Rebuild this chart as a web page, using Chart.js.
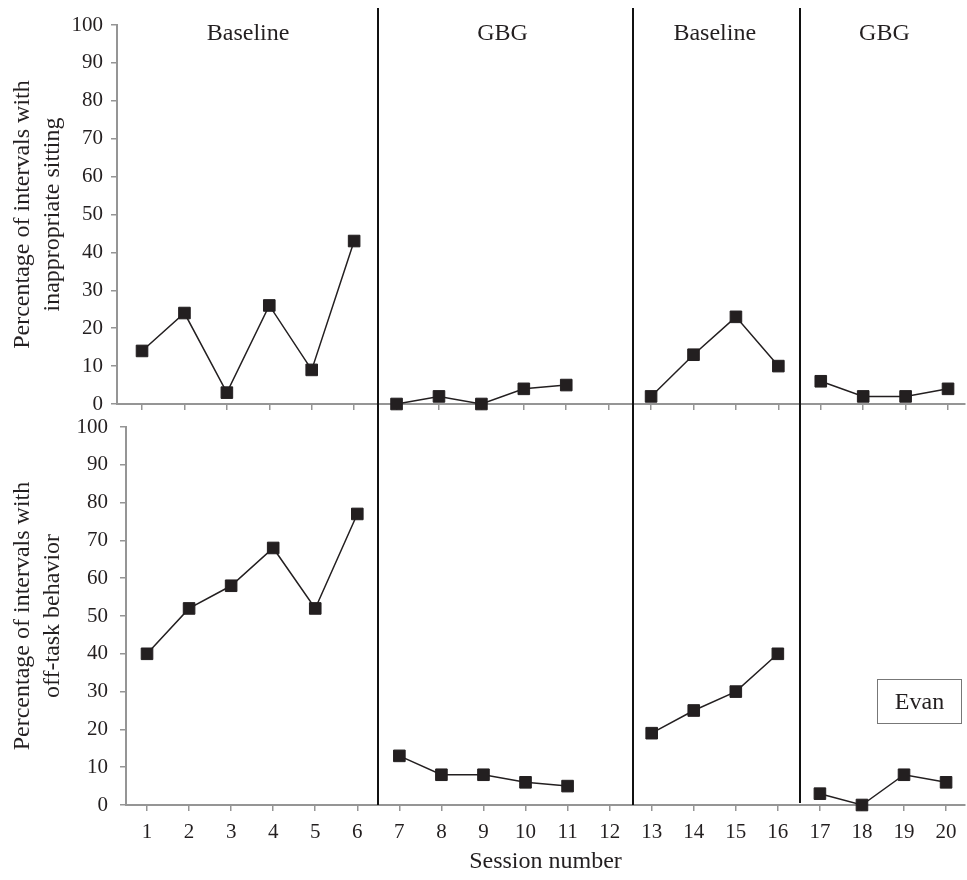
<!DOCTYPE html>
<html>
<head>
<meta charset="utf-8">
<script src="https://cdn.jsdelivr.net/npm/chart.js@4.4.1/dist/chart.umd.min.js"></script>
<style>
  html, body { margin: 0; padding: 0; background: #fff; }
  #wrap { position: relative; width: 967px; height: 880px; overflow: hidden; }
  #topWrap { position: absolute; left: 0; top: 0; width: 967px; height: 415px; }
  #bottomWrap { position: absolute; left: 0; top: 415px; width: 967px; height: 465px; }
</style>
</head>
<body>
<div id="wrap">
  <div id="topWrap"><canvas id="sittingChart"></canvas></div>
  <div id="bottomWrap"><canvas id="offTaskChart"></canvas></div>
</div>
<script>
// Session data (null = no session recorded)
const sessions = [1, 2, 3, 4, 5, 6, 7, 8, 9, 10, 11, 12, 13, 14, 15, 16, 17, 18, 19, 20];
const sittingValues = [14, 24, 3, 26, 9, 43, 0, 2, 0, 4, 5, null, 2, 13, 23, 10, 6, 2, 2, 4];
const offTaskValues = [40, 52, 58, 68, 52, 77, 13, 8, 8, 6, 5, null, 19, 25, 30, 40, 3, 0, 8, 6];

// Phases
const phaseNames = ["Baseline", "GBG", "Baseline", "GBG"];
const phaseStarts = [1, 7, 13, 17];
const phaseEnds = [6, 12, 16, 20];
const phaseChanges = [6.5, 12.55, 16.52];

const yTicks = [0, 10, 20, 30, 40, 50, 60, 70, 80, 90, 100];

const INK = "#231f20";
const AXIS = "#959595";
const FONT = "'Liberation Serif', 'Times New Roman', serif";

let topChart = null;
let bottomChart = null;

/**
 * Split a series into one dataset per phase so lines break between phases
 */
function buildDatasets(values) {
  return phaseStarts.map((start, i) => {
    const pts = [];
    sessions.forEach((s, idx) => {
      if (s >= start && s <= phaseEnds[i] && values[idx] !== null) {
        pts.push({ x: s, y: values[idx] });
      }
    });
    return {
      data: pts,
      borderColor: INK,
      borderWidth: 1.5,
      pointStyle: "rect",
      pointRadius: 8.2,
      pointBorderWidth: 1,
      pointBackgroundColor: INK,
      pointBorderColor: INK,
      tension: 0,
      clip: false,
    };
  });
}

// x pixel of a phase change line (shared by both panels, taken from bottom chart)
function phaseLineX(chart, v) {
  const ref = bottomChart || chart;
  return ref.scales.x.getPixelForValue(v);
}

const phasePlugin = {
  id: "phases",
  afterDatasetsDraw(chart, args, opts) {
    const ctx = chart.ctx;
    const area = chart.chartArea;
    ctx.save();
    ctx.strokeStyle = "#111";
    ctx.lineWidth = 2;
    phaseChanges.forEach((v, i) => {
      const x = Math.round(phaseLineX(chart, v));
      ctx.beginPath();
      ctx.moveTo(x, opts.lineTop);
      ctx.lineTo(x, opts.lineBottom === "canvas" ? chart.height : area.bottom - (i === 2 ? 2 : 0));
      ctx.stroke();
    });
    if (opts.labels) {
      ctx.fillStyle = INK;
      ctx.font = "24px " + FONT;
      ctx.textAlign = "center";
      ctx.textBaseline = "middle";
      phaseNames.forEach((name, i) => {
        const cx = chart.scales.x.getPixelForValue((phaseStarts[i] + phaseEnds[i]) / 2);
        ctx.fillText(name, cx, area.top + 9);
      });
    }
    if (opts.evan) {
      const xs = chart.scales.x;
      const ys = chart.scales.y;
      const x0 = Math.round(xs.getPixelForValue(18.36)) + 0.5;
      const x1 = Math.round(xs.getPixelForValue(20.36)) + 0.5;
      const y0 = Math.round(ys.getPixelForValue(33.3)) + 0.5;
      const y1 = Math.round(ys.getPixelForValue(21.7)) + 0.5;
      ctx.fillStyle = "#fff";
      ctx.fillRect(x0, y0, x1 - x0, y1 - y0);
      ctx.strokeStyle = "#777";
      ctx.lineWidth = 1;
      ctx.strokeRect(x0, y0, x1 - x0, y1 - y0);
      ctx.fillStyle = INK;
      ctx.font = "24px " + FONT;
      ctx.textAlign = "center";
      ctx.textBaseline = "middle";
      ctx.fillText("Evan", (x0 + x1) / 2, (y0 + y1) / 2 + 1);
    }
    ctx.restore();
  },
};

function makeOptions(cfg) {
  return {
    responsive: true,
    maintainAspectRatio: false,
    animation: false,
    layout: {
      autoPadding: false,
      padding: { top: cfg.padTop, right: cfg.padRight, bottom: 0, left: 0 },
    },
    plugins: {
      legend: { display: false },
      tooltip: { enabled: false },
      phases: cfg.phases,
    },
    scales: {
      x: {
        type: "linear",
        min: cfg.xMin,
        max: cfg.xMax,
        afterBuildTicks: (scale) => {
          scale.ticks = sessions.map((v) => ({ value: v }));
        },
        afterFit: (scale) => {
          scale.height = cfg.xHeight;
          scale.paddingLeft = 0;
          scale.paddingRight = 0;
        },
        grid: { drawOnChartArea: false, color: AXIS, tickLength: 6, lineWidth: 1.5 },
        border: { color: AXIS, width: 2 },
        ticks: {
          display: cfg.xLabels,
          color: INK,
          font: { family: FONT, size: 21 },
          padding: 9,
          maxRotation: 0,
          autoSkip: false,
        },
        title: {
          display: cfg.xLabels,
          text: "Session number",
          color: INK,
          font: { family: FONT, size: 24 },
          padding: { top: 4, bottom: 4 },
        },
      },
      y: {
        min: 0,
        max: 100,
        afterBuildTicks: (scale) => {
          scale.ticks = yTicks.map((v) => ({ value: v }));
        },
        afterFit: (scale) => {
          scale.width = cfg.yWidth;
          scale.paddingTop = 0;
          scale.paddingBottom = 0;
        },
        grid: { drawOnChartArea: false, color: AXIS, tickLength: 6, lineWidth: 1.5 },
        border: { color: AXIS, width: 2 },
        ticks: {
          color: INK,
          font: { family: FONT, size: 21 },
          padding: cfg.yTickPad,
        },
        title: {
          display: true,
          text: cfg.yTitle,
          color: INK,
          font: { family: FONT, size: 24, lineHeight: 1.25 },
          padding: { top: 8, bottom: 0 },
        },
      },
    },
  };
}

bottomChart = new Chart(document.getElementById("offTaskChart"), {
  type: "line",
  data: { datasets: buildDatasets(offTaskValues) },
  options: makeOptions({
    padTop: 12,
    padRight: 2,
    xMin: 0.5,
    xMax: 20.45,
    xHeight: 75,
    xLabels: true,
    yWidth: 126,
    yTickPad: 12,
    yTitle: ["Percentage of intervals with", "off-task behavior"],
    phases: { lineTop: 0, lineBottom: "area", labels: false, evan: true },
  }),
  plugins: [phasePlugin],
});

topChart = new Chart(document.getElementById("sittingChart"), {
  type: "line",
  data: { datasets: buildDatasets(sittingValues) },
  options: makeOptions({
    padTop: 25,
    padRight: 2,
    xMin: 0.41,
    xMax: 20.4,
    xHeight: 11,
    xLabels: false,
    yWidth: 117,
    yTickPad: 8,
    yTitle: ["Percentage of intervals with", "inappropriate sitting"],
    phases: { lineTop: 8, lineBottom: "canvas", labels: true, evan: false },
  }),
  plugins: [phasePlugin],
});

// redraw bottom chart now that both exist (keeps phase lines aligned)
bottomChart.draw();
</script>
</body>
</html>
